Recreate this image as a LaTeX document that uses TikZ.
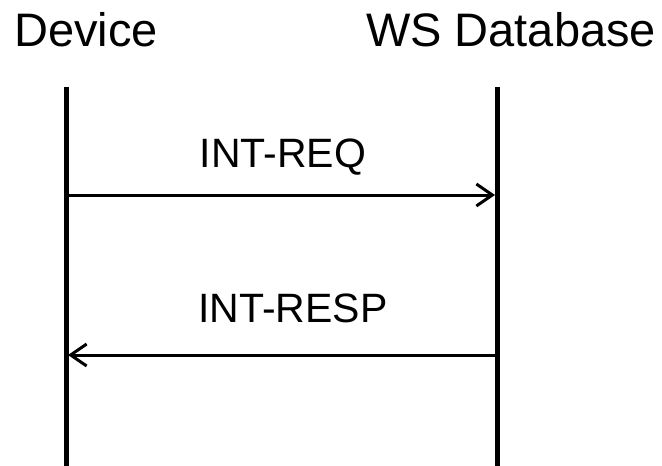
\documentclass[tikz,border=0pt]{standalone}
\usepackage{fontspec}
\setmainfont{Liberation Sans}
\usetikzlibrary{arrows.meta}

\tikzset{
    party/.style={anchor=base, inner sep=0pt, font=\fontsize{47}{56}\selectfont},
    msglabel/.style={anchor=base, inner sep=0pt, font=\fontsize{41}{49}\selectfont},
    lifeline/.style={line width=5pt},
    msg/.style={line width=3pt, -{Straight Barb[length=16pt, width=22pt, line width=3pt]}}
}

\begin{document}
\begin{tikzpicture}[x=1pt, y=-1pt]
        \useasboundingbox (0,0) rectangle (662,466);
        % parties
        \node[party] (dev) at (86,46) {Device};
        \node[party] (wsdb) at (511,46) {WS Database};
        % lifelines
        \foreach \n/\x in {dev/66, wsdb/497} {
            \coordinate (\n-top) at (\x,87);
            \coordinate (\n-bot) at (\x,466);
            \draw[lifeline] (\n-top) -- (\n-bot);
        }
        % messages
        \coordinate (req-a) at (66,195);
        \coordinate (req-b) at (495,195);
        \coordinate (resp-a) at (497,355);
        \coordinate (resp-b) at (68,355);
        \draw[msg] (req-a) -- (req-b);
        \draw[msg] (resp-a) -- (resp-b);
        \node[msglabel] (reqlbl) at (283,167) {INT-REQ};
        \node[msglabel] (resplbl) at (293,322) {INT-RESP};
    \end{tikzpicture}
\end{document}
